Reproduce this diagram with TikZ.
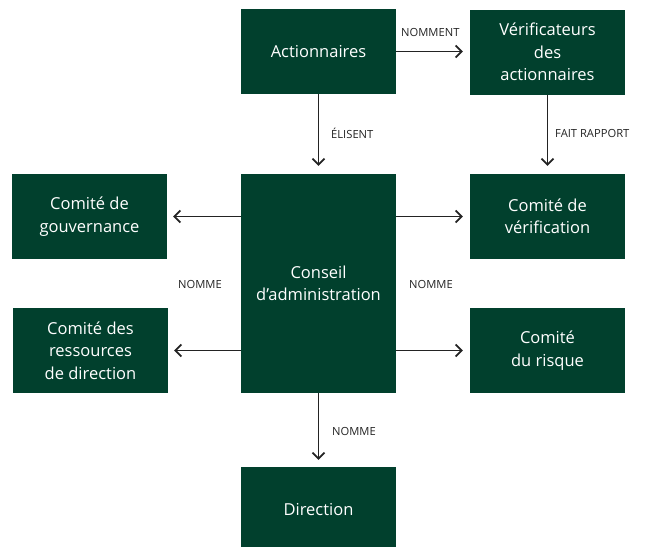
\documentclass[tikz,border=0pt]{standalone}
\usepackage{fontspec}
\setmainfont{Open Sans}
\usetikzlibrary{arrows.meta}
\definecolor{boxgreen}{RGB}{1,64,45}
\definecolor{labelgray}{RGB}{35,35,35}
\begin{document}
\begin{tikzpicture}[x=1pt,y=-1pt,
  box/.style={fill=boxgreen, text=white, draw=none, minimum width=155pt, align=center, font=\fontsize{16.5}{22.5}\selectfont, inner sep=0pt},
  lbl/.style={font=\fontsize{11.2}{13}\selectfont, text=labelgray, anchor=west, inner sep=0pt},
  arr/.style={draw=labelgray, line width=1.7pt, -{Straight Barb[length=6pt,width=12pt]}}]
\useasboundingbox (0,0) rectangle (647,546);
\node[box, minimum height=85pt] (act) at (318.5,51.5) {Actionnaires};
\node[box, minimum height=85pt] (ver) at (547.5,52) {Vérificateurs\\des\\actionnaires};
\node[box, minimum height=219pt] (con) at (318.5,283.5) {Conseil\\d’administration};
\node[box, minimum height=85pt] (gouv) at (89.5,216.5) {Comité de\\gouvernance};
\node[box, minimum height=85pt] (ress) at (90.5,350.5) {Comité des\\ressources\\de direction};
\node[box, minimum height=85pt] (verif) at (547.5,216.5) {Comité de\\vérification};
\node[box, minimum height=85pt] (risq) at (547.5,350.5) {Comité\\du risque};
\node[box, minimum height=85pt] (dir) at (318.5,509.5) {Direction};

\draw[arr, shorten >=7pt] (act.east) -- (act.east -| ver.west);
\draw[arr, shorten >=8pt] (act.south) -- (con.north);
\draw[arr, shorten >=8pt] (ver.south) -- (verif.north);
\draw[arr, shorten >=6pt] (con.west |- gouv.east) -- (gouv.east);
\draw[arr, shorten >=6pt] (con.west |- ress.east) -- (ress.east);
\draw[arr, shorten >=7pt] (con.east |- verif.west) -- (verif.west);
\draw[arr, shorten >=7pt] (con.east |- risq.west) -- (risq.west);
\draw[arr, shorten >=7pt] (con.south) -- (dir.north);

\node[lbl] (l1) at (401,32) {NOMMENT};
\node[lbl] (l2) at (331,133) {ÉLISENT};
\node[lbl] (l3) at (555,133) {FAIT RAPPORT};
\node[lbl] (l4) at (178,284) {NOMME};
\node[lbl] (l5) at (409,284) {NOMME};
\node[lbl] (l6) at (332,431) {NOMME};
\end{tikzpicture}
\end{document}
